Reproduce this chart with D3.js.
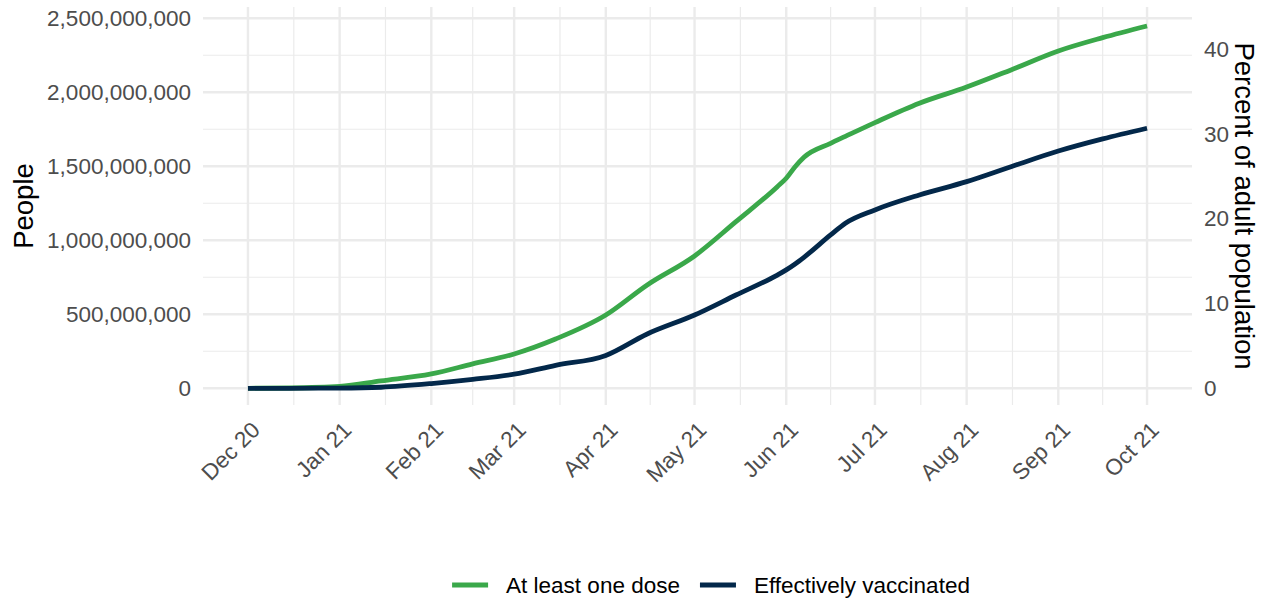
<!DOCTYPE html>
<html>
<head>
<meta charset="utf-8">
<script src="https://cdn.jsdelivr.net/npm/d3@7"></script>
<style>
  body { margin: 0; background: #fff; }
  text { font-family: "Liberation Sans", Arial, sans-serif; }
  .grid-major { stroke: #ebebeb; stroke-width: 2.4; }
  .grid-minor { stroke: #ebebeb; stroke-width: 1.2; }
  .tick-label { fill: #4d4d4d; font-size: 22.5px; }
  .axis-title { fill: #000; font-size: 27.5px; }
  .legend-text { fill: #000; font-size: 22.5px; }
  .line { fill: none; stroke-width: 4.8; }
</style>
</head>
<body>
<div id="graphic"></div>
<script>
// values, people in millions
var dates = ["2020-12-01", "2020-12-15", "2021-01-01", "2021-01-15", "2021-02-01", "2021-02-15",
  "2021-03-01", "2021-03-15", "2021-04-01", "2021-04-15", "2021-05-01", "2021-05-15",
  "2021-05-29", "2021-06-01", "2021-06-04", "2021-06-07", "2021-06-16", "2021-06-21",
  "2021-07-01", "2021-07-16", "2021-08-01", "2021-08-16", "2021-09-01", "2021-09-16", "2021-10-01"];
var atLeastOneDose = [0, 2, 12, 50, 97, 165, 232, 333, 495, 698, 894, 1126,
  1362, 1419, 1497, 1561, 1655, 1702, 1795, 1926, 2035, 2151, 2279, 2369, 2448];
var effectivelyVaccinated = [0, 0, 1, 7, 32, 60, 95, 155, 222, 367, 495, 630,
  765, 800, 840, 885, 1036, 1115, 1205, 1306, 1396, 1497, 1603, 1685, 1757];
var monthTicks = ["2020-12-01", "2021-01-01", "2021-02-01", "2021-03-01", "2021-04-01", "2021-05-01",
  "2021-06-01", "2021-07-01", "2021-08-01", "2021-09-01", "2021-10-01"];
var peopleTicks = [0, 500000000, 1000000000, 1500000000, 2000000000, 2500000000];
var percentTicks = [0, 10, 20, 30, 40];
var seriesNames = ["At least one dose", "Effectively vaccinated"];
var seriesColors = ["#3aa84a", "#03284a"];
var adultPopulation = 5740000000;

var width = 1270;
var height = 599;
var panel = { left: 203, right: 1192, top: 7, bottom: 405 };

var parseDate = d3.timeParse("%Y-%m-%d");
var svg, xScale, yScale, yRight;

function buildSeries(values) {
  return dates.map(function(d, i) {
    return { date: parseDate(d), value: values[i] * 1e6 };
  });
}

function defineScales() {
  var start = parseDate(dates[0]);
  var end = parseDate(dates[dates.length - 1]);
  var pad = (end - start) * 0.05;
  xScale = d3.scaleTime()
    .domain([new Date(+start - pad), new Date(+end + pad)])
    .range([panel.left, panel.right]);
  yScale = d3.scaleLinear()
    .domain([-113e6, 2576e6])
    .range([panel.bottom, panel.top]);
  yRight = d3.scaleLinear()
    .domain(yScale.domain().map(function(v) { return v / adultPopulation * 100; }))
    .range([panel.bottom, panel.top]);
}

function renderGrid() {
  var g = svg.append("g");
  var majors = monthTicks.map(parseDate);
  var minorX = [];
  for (var i = 0; i < majors.length - 1; i++) {
    minorX.push(new Date((+majors[i] + +majors[i + 1]) / 2));
  }
  var minorY = [];
  for (var j = 0; j < peopleTicks.length - 1; j++) {
    minorY.push((peopleTicks[j] + peopleTicks[j + 1]) / 2);
  }

  g.selectAll(".hminor").data(minorY).enter().append("line")
    .attr("class", "grid-minor")
    .attr("x1", panel.left).attr("x2", panel.right)
    .attr("y1", d => yScale(d)).attr("y2", d => yScale(d));
  g.selectAll(".vminor").data(minorX).enter().append("line")
    .attr("class", "grid-minor")
    .attr("y1", panel.top).attr("y2", panel.bottom)
    .attr("x1", d => xScale(d)).attr("x2", d => xScale(d));
  g.selectAll(".hmajor").data(peopleTicks).enter().append("line")
    .attr("class", "grid-major")
    .attr("x1", panel.left).attr("x2", panel.right)
    .attr("y1", d => yScale(d)).attr("y2", d => yScale(d));
  g.selectAll(".vmajor").data(majors).enter().append("line")
    .attr("class", "grid-major")
    .attr("y1", panel.top).attr("y2", panel.bottom)
    .attr("x1", d => xScale(d)).attr("x2", d => xScale(d));
}

function renderAxes() {
  var fmtPeople = d3.format(",");
  var fmtMonth = d3.timeFormat("%b %y");

  svg.append("g").selectAll("text").data(peopleTicks).enter().append("text")
    .attr("class", "tick-label")
    .attr("text-anchor", "end")
    .attr("x", 191)
    .attr("y", d => yScale(d))
    .attr("dy", "0.36em")
    .text(fmtPeople);

  svg.append("g").selectAll("text").data(percentTicks).enter().append("text")
    .attr("class", "tick-label")
    .attr("x", 1204)
    .attr("y", d => yRight(d))
    .attr("dy", "0.36em")
    .text(d => d);

  svg.append("g").selectAll("text").data(monthTicks.map(parseDate)).enter().append("text")
    .attr("class", "tick-label")
    .attr("text-anchor", "end")
    .attr("dy", "0.71em")
    .attr("transform", d => "translate(" + (xScale(d) + 2) + "," + 420 + ") rotate(-45)")
    .text(fmtMonth);

  var midY = (panel.top + panel.bottom) / 2;
  svg.append("text")
    .attr("class", "axis-title")
    .attr("text-anchor", "middle")
    .attr("transform", "translate(32.5," + midY + ") rotate(-90)")
    .text("People");
  svg.append("text")
    .attr("class", "axis-title")
    .attr("text-anchor", "middle")
    .attr("transform", "translate(1234.5," + midY + ") rotate(90)")
    .text("Percent of adult population");
}

function renderLines() {
  var line = d3.line()
    .x(d => xScale(d.date))
    .y(d => yScale(d.value))
    .curve(d3.curveMonotoneX);
  [atLeastOneDose, effectivelyVaccinated].forEach(function(values, i) {
    svg.append("path")
      .datum(buildSeries(values))
      .attr("class", "line")
      .attr("stroke", seriesColors[i])
      .attr("d", line);
  });
}

function renderLegend() {
  var legendY = 585;
  var keyWidth = 36;
  var keyGap = 18;
  var itemGap = 20;
  var g = svg.append("g");
  var x = 0;
  seriesNames.forEach(function(name, i) {
    g.append("line")
      .attr("x1", x).attr("x2", x + keyWidth)
      .attr("y1", legendY).attr("y2", legendY)
      .attr("stroke", seriesColors[i])
      .attr("stroke-width", 4.8);
    var t = g.append("text")
      .attr("class", "legend-text")
      .attr("x", x + keyWidth + keyGap)
      .attr("y", legendY)
      .attr("dy", "0.36em")
      .text(name);
    x = x + keyWidth + keyGap + t.node().getComputedTextLength() + itemGap;
  });
  var total = x - itemGap;
  g.attr("transform", "translate(" + (711 - total / 2) + ",0)");
}

svg = d3.select("#graphic").append("svg")
  .attr("width", width)
  .attr("height", height);

defineScales();
renderGrid();
renderLines();
renderAxes();
renderLegend();
</script>
</body>
</html>
